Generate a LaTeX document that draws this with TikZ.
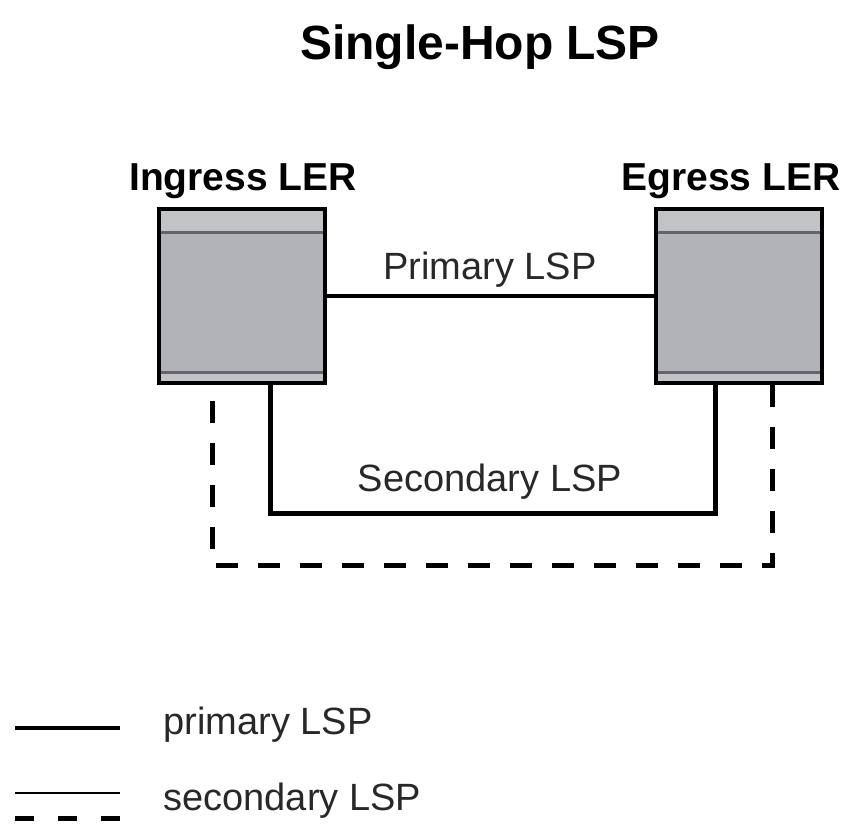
\documentclass[tikz,border=0pt]{standalone}
\usepackage{fontspec}
\setmainfont{Liberation Sans}
\usetikzlibrary{positioning}
\definecolor{lergray}{RGB}{178,179,184}
\definecolor{lerband}{RGB}{194,195,199}
\definecolor{lerline}{RGB}{100,100,106}
\definecolor{lsptext}{RGB}{40,40,40}

\begin{document}
\begin{tikzpicture}[x=0.5pt,y=-0.5pt,
  ler/.style={draw=black,line width=2pt,fill=lergray,minimum width=83pt,minimum height=87pt,inner sep=0pt,
    path picture={
      \fill[lerband] (path picture bounding box.north west) rectangle ([yshift=-11.5pt]path picture bounding box.north east);
      \draw[lerline,line width=1.5pt] ([yshift=-11.5pt]path picture bounding box.north west) -- ([yshift=-11.5pt]path picture bounding box.north east);
      \fill[lerband] (path picture bounding box.south west) rectangle ([yshift=5.5pt]path picture bounding box.south east);
      \draw[lerline,line width=1.5pt] ([yshift=5.5pt]path picture bounding box.south west) -- ([yshift=5.5pt]path picture bounding box.south east);
    }},
  lsp/.style={line width=2.2pt},
  backup/.style={line width=2.5pt,dash pattern=on 11pt off 10pt},
  lbl/.style={inner sep=0pt,text=lsptext,font=\fontsize{19}{22}\selectfont},
  hdr/.style={inner sep=0pt,font=\bfseries\fontsize{19.5}{22}\selectfont}]
  \useasboundingbox (0,0) rectangle (849,827);

  \node[inner sep=0pt,font=\bfseries\fontsize{24}{28}\selectfont] (title) at (480,47) {Single-Hop LSP};

  % the two routers
  \node[ler] (ingress) at (242,296) {};
  \node[ler] (egress) at (739,296) {};
  \node[hdr] (ingresslbl) at (243,181) {Ingress LER};
  \node[hdr] (egresslbl) at (731,181) {Egress LER};

  % paths
  \coordinate (sec) at (492,513);
  \coordinate (bak) at (492,565);
  \draw[lsp] (ingress.east) -- (egress.west);
  \draw[lsp,line width=2.5pt] ([xshift=14pt]ingress.south) |- (sec) -| ([xshift=-12pt]egress.south);
  \draw[backup] ([xshift=16.5pt]egress.south) |- (bak) -| ([xshift=-15pt]ingress.south);
  \node[lbl] (primlbl) at (490,270) {Primary LSP};
  \node[lbl] (seclbl) at (490,482) {Secondary LSP};

  % legend
  \coordinate (keyprimA) at (15,728);
  \coordinate (keyprimB) at (120,728);
  \coordinate (keysecA) at (15,793);
  \coordinate (keysecB) at (120,793);
  \coordinate (keybakA) at (15,818);
  \coordinate (keybakB) at (120,818);
  \draw[lsp] (keyprimA) -- (keyprimB);
  \draw[line width=1.3pt] (keysecA) -- (keysecB);
  \draw[backup,dash pattern=on 9.5pt off 12pt] (keybakA) -- (keybakB);
  \node[lbl,anchor=west] (keyprimlbl) at (163,725) {primary LSP};
  \node[lbl,anchor=west] (keyseclbl) at (163,801) {secondary LSP};
\end{tikzpicture}
\end{document}
